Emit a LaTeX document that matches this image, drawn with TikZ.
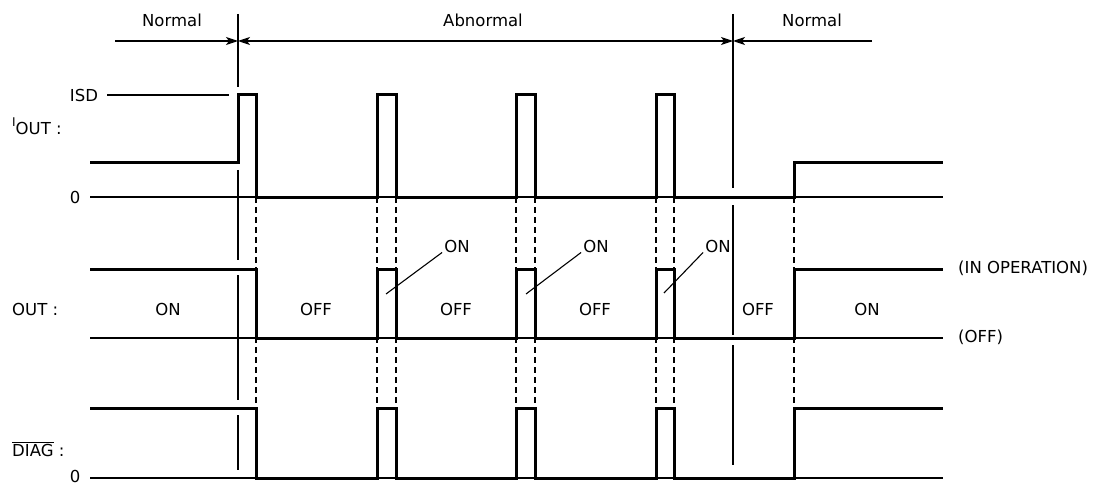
\documentclass[tikz,border=0pt]{standalone}
\usepackage{fontspec}
\setmainfont{DejaVu Sans}
\usetikzlibrary{arrows.meta}
\begin{document}
\begin{tikzpicture}[x=1pt,y=-1pt,
  txt/.style={font=\fontsize{16.5}{19}\selectfont, inner sep=0pt},
  sig/.style={line width=3pt, line join=miter},
  thin/.style={line width=1.1pt},
  dsh/.style={line width=1.1pt, dash pattern=on 6pt off 4pt},
  arr/.style={line width=1.1pt, -{Stealth[length=12pt,width=8pt,inset=3pt]}},
  barr/.style={line width=1.1pt, {Stealth[length=12pt,width=8pt,inset=3pt]}-{Stealth[length=12pt,width=8pt,inset=3pt]}}]
\useasboundingbox (0,0) rectangle (1098,484);

% region marks
\coordinate (m1) at (238,41);
\coordinate (m2) at (733,41);
\coordinate (a0) at (115,41);
\coordinate (a3) at (872,41);
\draw[arr] (a0) -- (m1);
\draw[barr] (m1) -- (m2);
\draw[arr] (a3) -- (m2);
\node[txt] (n1) at (172,20) {Normal};
\node[txt] (ab) at (483,20) {Abnormal};
\node[txt] (n2) at (812,20) {Normal};

% boundary verticals
\draw[thin] (238,14) -- (238,87);
\draw[thin] (238,170) -- (238,260);
\draw[thin] (238,275) -- (238,400);
\draw[thin] (238,415) -- (238,470);
\draw[thin] (733,14) -- (733,188);
\draw[thin] (733,205) -- (733,335);
\draw[thin] (733,345) -- (733,465);

% dashed verticals
\foreach \x in {256,377,396,516,535,656,674,794}
  \draw[dsh] (\x,197) -- (\x,478);

% baselines
\draw[thin] (107,95) -- (229,95);
\draw[thin] (90,197) -- (943,197);
\draw[thin] (90,338) -- (943,338);
\draw[thin] (90,478) -- (943,478);

% IOUT
\draw[sig] (90,163) -- (238,163) -- (238,95) -- (256,95) -- (256,197)
  -- (377,197) -- (377,95) -- (396,95) -- (396,197)
  -- (516,197) -- (516,95) -- (535,95) -- (535,197)
  -- (656,197) -- (656,95) -- (674,95) -- (674,197)
  -- (794,197) -- (794,163) -- (943,163);

% OUT
\draw[sig] (90,269) -- (256,269) -- (256,338)
  -- (377,338) -- (377,269) -- (396,269) -- (396,338)
  -- (516,338) -- (516,269) -- (535,269) -- (535,338)
  -- (656,338) -- (656,269) -- (674,269) -- (674,338)
  -- (794,338) -- (794,269) -- (943,269);

% DIAG
\draw[sig] (90,408) -- (256,408) -- (256,478)
  -- (377,478) -- (377,408) -- (396,408) -- (396,478)
  -- (516,478) -- (516,408) -- (535,408) -- (535,478)
  -- (656,478) -- (656,408) -- (674,408) -- (674,478)
  -- (794,478) -- (794,408) -- (943,408);

% left labels
\node[txt, anchor=west] (iout) at (12,126) {\raisebox{0.9ex}{\fontsize{12}{12}\selectfont I}OUT :};
\node[txt] (isd) at (84,95) {ISD};
\node[txt] (z1) at (75,197) {0};
\node[txt, anchor=west] (outl) at (12,309) {OUT :};
\node[txt, anchor=west] (diagl) at (12,449) {$\overline{\mbox{DIAG}}$ :};
\node[txt] (z2) at (75,476) {0};

% right labels
\node[txt, anchor=west] (inop) at (958,268) {(IN OPERATION)};
\node[txt, anchor=west] (offl) at (958,337) {(OFF)};

% state labels
\node[txt] (s1) at (168,309) {ON};
\node[txt] (s2) at (316,309) {OFF};
\node[txt] (s3) at (456,309) {OFF};
\node[txt] (s4) at (595,309) {OFF};
\node[txt] (s5) at (758,309) {OFF};
\node[txt] (s6) at (867,309) {ON};

% ON callouts
\node[txt] (c1) at (457,246) {ON};
\node[txt] (c2) at (596,246) {ON};
\node[txt] (c3) at (718,246) {ON};
\coordinate (p1) at (386,294);
\coordinate (p2) at (526,294);
\coordinate (p3) at (664,293);
\draw[thin] (p1) -- ([xshift=-2pt]c1.south west);
\draw[thin] (p2) -- ([xshift=-2pt]c2.south west);
\draw[thin] (p3) -- ([xshift=-2pt]c3.south west);
\end{tikzpicture}
\end{document}
